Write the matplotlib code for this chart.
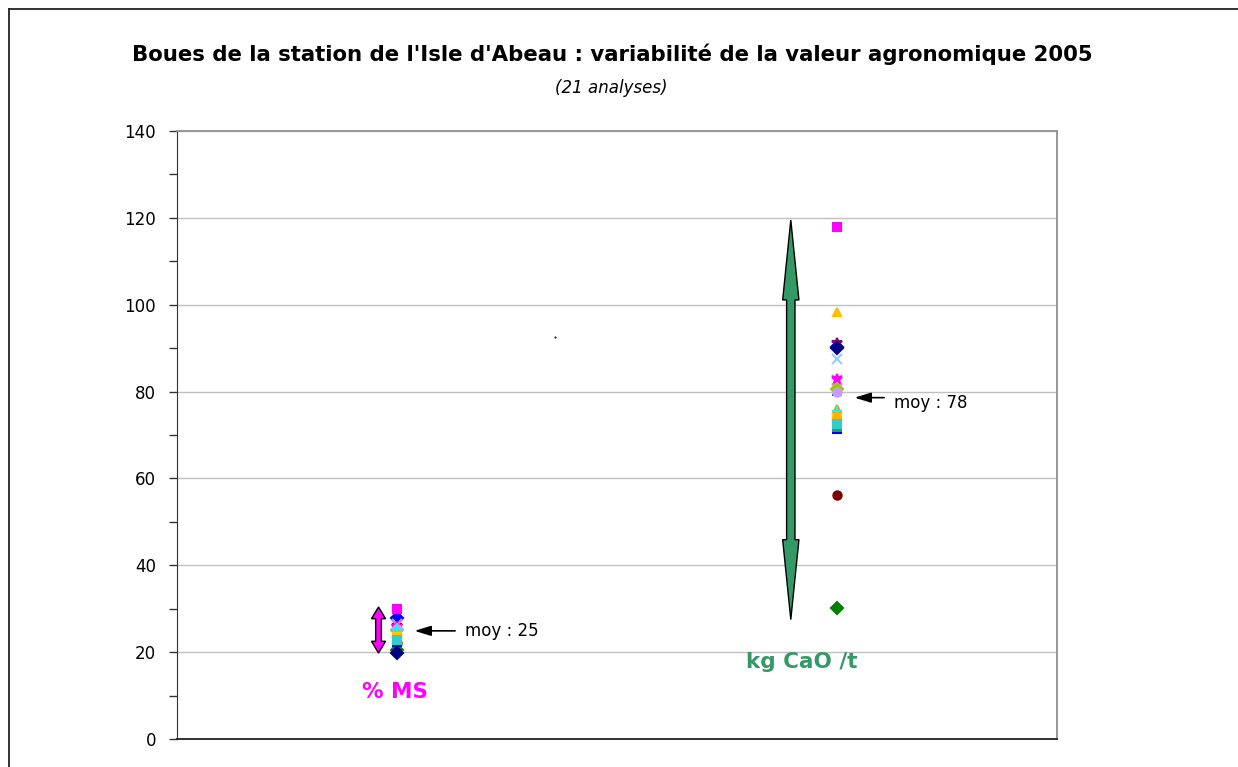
import matplotlib
matplotlib.use("Agg")
import matplotlib.pyplot as plt
from matplotlib.patches import Polygon
from matplotlib.lines import Line2D

# --- donnees : 21 analyses, une serie par analyse ---
ms_values = [27.8, 29.9, 24.6, 26.4, 26.0, 22.0, 25.0, 22.4, 20.5, 26.2, 25.8,
             25.0, 25.3, 24.3, 25.5, 23.6, 23.2, 21.5, 19.7, 23.0, 22.8]
cao_values = [90.3, 118.0, 98.4, 87.5, 91.1, 56.2, 71.9, 79.2, 30.1, 82.7, 83.0,
              80.7, 80.0, 75.9, 75.5, 73.8, 73.0, 70.4, 90.0, 74.5, 72.5]
markers = ['D', 's', '^', 'x', '*', 'o', 's', '_', 'D', 'x', '*',
           'D', 'o', '^', '+', 's', 's', '_', 'D', '^', 's']
colors = ['#0000FF', '#FF00FF', '#FFC000', '#99CCFF', '#800080', '#800000',
          '#339966', '#0066FF', '#008000', '#FF66CC', '#FF00FF', '#99CC00',
          '#CC99FF', '#FF9900', '#00FFFF', '#FFCC00', '#FFC000', '#0000FF',
          '#000080', '#FFB000', '#33CCCC']
categories = ['% MS', 'kg CaO /t']
cat_colors = ['#FF00FF', '#339966']
means = [25, 78]

ms_range = (19.8, 30.4)
cao_range = (27.5, 119.5)

fig = plt.figure(figsize=(12.38, 7.67), dpi=100)
ax = fig.add_axes([177 / 1238, 1 - 739 / 767, 880 / 1238, 608 / 767])

# cadre exterieur du graphique
fig.add_artist(Line2D([9 / 1238, 9 / 1238], [0, 1 - 9 / 767], transform=fig.transFigure,
                      color='#222222', lw=1.3))
fig.add_artist(Line2D([9 / 1238, 1], [1 - 9 / 767, 1 - 9 / 767], transform=fig.transFigure,
                      color='#222222', lw=1.3))

for i in range(len(ms_values)):
    ms = 7 if markers[i] in ('*', 'x', '+', '_') else 6
    ax.plot([1, 2], [ms_values[i], cao_values[i]], linestyle='none',
            marker=markers[i], color=colors[i], markersize=ms, mew=1.5, zorder=3)


def double_arrow(x, y0, y1, shaft, head, head_len, color):
    hs, hh = shaft / 2, head / 2
    pts = [(x, y1), (x + hh, y1 - head_len), (x + hs, y1 - head_len),
           (x + hs, y0 + head_len), (x + hh, y0 + head_len), (x, y0),
           (x - hh, y0 + head_len), (x - hs, y0 + head_len),
           (x - hs, y1 - head_len), (x - hh, y1 - head_len)]
    ax.add_patch(Polygon(pts, closed=True, facecolor=color, edgecolor='black',
                         lw=1, zorder=4))


double_arrow(0.958, ms_range[0], ms_range[1], 0.013, 0.032, 2.7, cat_colors[0])
double_arrow(1.895, cao_range[0], cao_range[1], 0.019, 0.037, 18.4, cat_colors[1])

# moyennes
astyle = '-|>,head_length=0.55,head_width=0.17'
ax.annotate('', xy=(1.04, 24.9), xytext=(1.132, 24.9),
            arrowprops=dict(arrowstyle=astyle, color='black', lw=1.2,
                            mutation_scale=18, shrinkA=0, shrinkB=0))
ax.text(1.155, 24.9, 'moy : %d' % means[0], fontsize=12, va='center', ha='left')
ax.annotate('', xy=(2.04, 78.6), xytext=(2.107, 78.6),
            arrowprops=dict(arrowstyle=astyle, color='black', lw=1.2,
                            mutation_scale=18, shrinkA=0, shrinkB=0))
ax.text(2.13, 77.4, 'moy : %d' % means[1], fontsize=12, va='center', ha='left')

ax.text(0.995, 10.8, categories[0], color=cat_colors[0], fontsize=15.5,
        fontweight='bold', ha='center', va='center')
ax.text(1.92, 17.7, categories[1], color=cat_colors[1], fontsize=15.5,
        fontweight='bold', ha='center', va='center')

ax.plot([1.359], [92.6], marker='.', color='black', markersize=1)

ax.set_xlim(0.5, 2.5)
ax.set_ylim(0, 140)
ax.set_yticks(range(0, 141, 20))
ax.set_yticks(range(10, 140, 20), minor=True)
ax.set_xticks([])
ax.tick_params(axis='y', which='both', direction='out', length=6, width=1,
               labelsize=12, pad=9, color='#333333')
ax.grid(axis='y', color='#C0C0C0', lw=1)
ax.set_axisbelow(True)
ax.spines['left'].set_color('#333333')
ax.spines['bottom'].set_color('#222222')
ax.spines['bottom'].set_linewidth(1.3)
ax.spines['top'].set_color('#909090')
ax.spines['right'].set_color('#909090')
ax.spines['top'].set_linewidth(1.3)
ax.spines['right'].set_linewidth(1.3)

fig.text(612 / 1238, 1 - 54 / 767,
         "Boues de la station de l'Isle d'Abeau : variabilité de la valeur agronomique 2005",
         ha='center', va='center', fontsize=15.3, fontweight='bold')
fig.text(611 / 1238, 1 - 88 / 767, '(21 analyses)', ha='center', va='center',
         fontsize=12, style='italic')

fig.savefig('out.png', dpi=100)
